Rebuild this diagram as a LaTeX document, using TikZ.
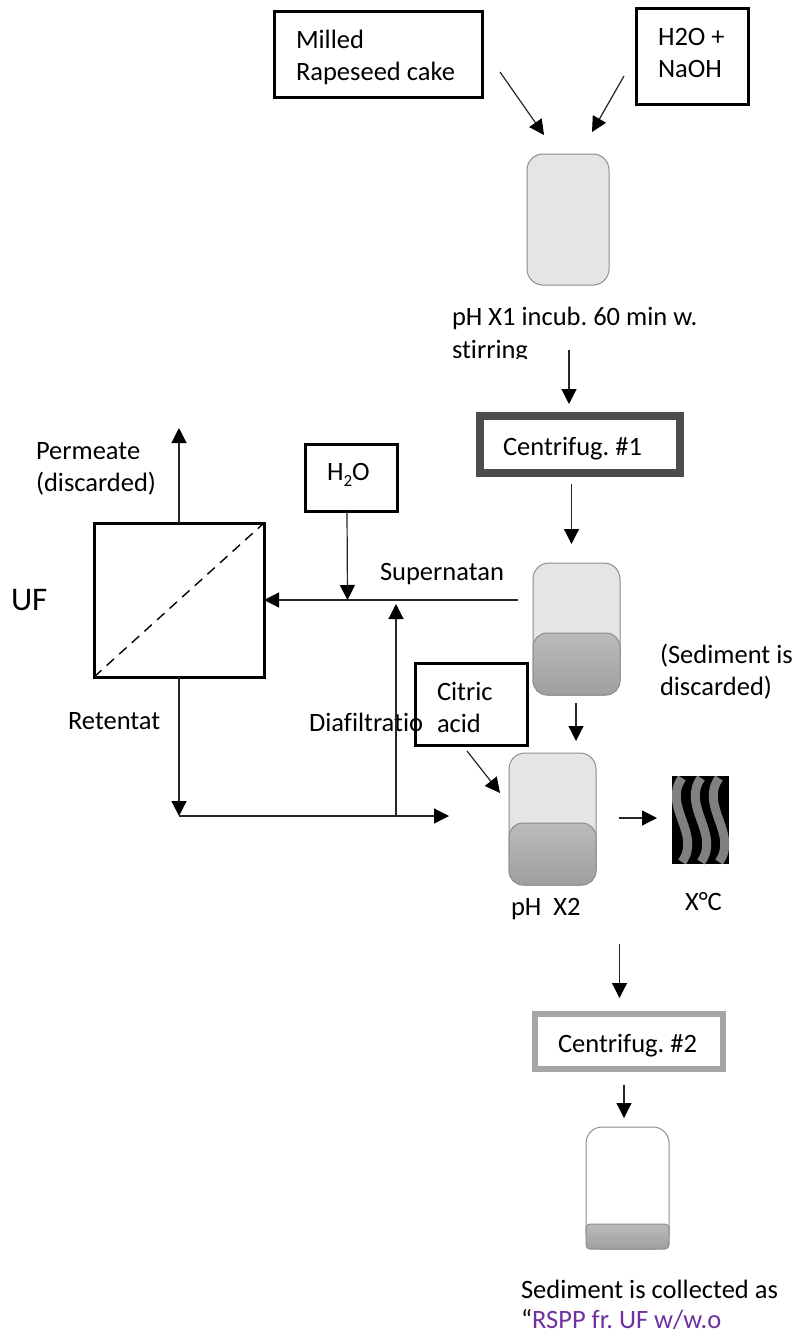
\documentclass[tikz,border=0pt]{standalone}
\usepackage{fontspec}
\setmainfont{Carlito}[Ligatures=NoCommon]
\usetikzlibrary{arrows.meta}
\definecolor{vesselline}{HTML}{8C8C8C}
\definecolor{sedtop}{HTML}{BBBBBB}
\definecolor{sedbot}{HTML}{9F9F9F}
\definecolor{rsppviolet}{HTML}{7030A0}
\tikzset{
  lbl/.style={anchor=base west,inner sep=0pt,outer sep=0pt,font=\fontsize{26.5}{30}\selectfont\frenchspacing,text=black},
  blackbox/.style={draw=black,line width=3pt,fill=white,inner sep=0pt,outer sep=0pt},
  vessel/.style={draw=vesselline,line width=1pt,rounded corners=16pt,inner sep=0pt,outer sep=0pt},
  sediment/.style={draw=vesselline,line width=1pt,rounded corners=14pt,inner sep=0pt,outer sep=0pt,top color=sedtop,bottom color=sedbot},
  flow/.style={draw=black!85,line width=1.2pt,-{Triangle[length=15pt,width=15pt,color=black]}},
  wave/.style={draw=black!50,line width=9pt}
}
\begin{document}
\begin{tikzpicture}[x=1pt,y=-1pt]
\useasboundingbox[fill=white] (0,0) rectangle (795,1333);

% input boxes
\node[blackbox,minimum width=208pt,minimum height=86pt] (milled) at (378,54) {};
\node[blackbox,minimum width=112pt,minimum height=96pt] (naoh) at (692,56) {};
\node[blackbox,minimum width=92pt,minimum height=67pt] (water) at (351,477.5) {};
\node[blackbox,minimum width=170pt,minimum height=154pt] (uf) at (179,600) {};
\draw[dash pattern=on 10pt off 7pt,line width=1.4pt] (uf.south west) -- (uf.north east);

% centrifuges
\node[draw=black!70,line width=8pt,fill=white,minimum width=200pt,minimum height=57pt,inner sep=0pt] (cfa) at (580,444.5) {};
\node[draw=black!35,line width=6pt,fill=white,minimum width=188pt,minimum height=55pt,inner sep=0pt] (cfb) at (629,1041.5) {};

% vessels
\node[vessel,fill=black!10,minimum width=82pt,minimum height=131pt] (va) at (568,219.5) {};
\node[vessel,fill=black!10,minimum width=87pt,minimum height=132pt] (vb) at (576.5,629) {};
\node[sediment,minimum width=87pt,minimum height=62pt] (sb) at (576.5,664) {};
\node[vessel,fill=black!10,minimum width=87pt,minimum height=132pt] (vc) at (552.5,819) {};
\node[sediment,minimum width=87pt,minimum height=62pt] (sc) at (552.5,854) {};
\node[vessel,fill=white,minimum width=83pt,minimum height=122pt] (vd) at (627.5,1188) {};
\node[sediment,rounded corners=4pt,minimum width=83pt,minimum height=25pt] (sd) at (627.5,1236.5) {};

% citric acid box under the diafiltration label
\node[blackbox,minimum width=112pt,minimum height=82pt] (citric) at (471,704) {};
\node[lbl] (diafil) at (309,731) {Diafiltratio};

% heating picture
\node[fill=black,minimum width=57pt,minimum height=88pt,inner sep=0pt,outer sep=0pt] (heat) at (700.5,820) {};
\begin{scope}
\clip (heat.south west) rectangle (heat.north east);
\draw[wave] (682,778) .. controls (662,806) and (702,834) .. (682,862);
\draw[wave] (701,778) .. controls (681,806) and (721,834) .. (701,862);
\draw[wave] (719,778) .. controls (699,806) and (739,834) .. (719,862);
\end{scope}

% free ends of the connectors
\coordinate (a1s) at (500,72);   \coordinate (a1e) at (544,135);
\coordinate (a2s) at (624,76);   \coordinate (a2e) at (592,132);
\coordinate (a3s) at (569,350);  \coordinate (a3e) at (569,404);
\coordinate (a4s) at (571.5,484);  \coordinate (a4e) at (571.5,544);
\coordinate (a5s) at (576,703);  \coordinate (a5e) at (576,741);
\coordinate (a6s) at (467,751);  \coordinate (a6e) at (500,793);
\coordinate (a7s) at (619,818);  \coordinate (a7e) at (657,818);
\coordinate (a8s) at (619.5,944);  \coordinate (a8e) at (619.5,998);
\coordinate (a9s) at (624,1085); \coordinate (a9e) at (624,1118);
\coordinate (sup) at (518,600);
\coordinate (wtop) at (347,511);
\coordinate (join) at (347.5,600);
\coordinate (corner) at (179,816);
\coordinate (tee) at (396,816);
\coordinate (bote) at (449,816);
\coordinate (diae) at (396,604);
\coordinate (perm) at (179,428);

% connectors
\draw[flow] (a1s) -- (a1e);
\draw[flow] (a2s) -- (a2e);
\draw[flow] (a3s) -- (a3e);
\draw[flow] (a4s) -- (a4e);
\draw[flow] (a5s) -- (a5e);
\draw[flow] (a6s) -- (a6e);
\draw[flow] (a7s) -- (a7e);
\draw[flow] (a8s) -- (a8e);
\draw[flow] (a9s) -- (a9e);
\draw[flow] (sup) -- (uf.east);
\draw[flow] (wtop) -- (join);
\draw[flow] (uf.north) -- (perm);
\draw[flow] (uf.south) -- (corner);
\draw[flow] (corner) -- (bote);
\draw[flow] (tee) -- (diae);

% labels
\node[lbl] (t1) at (296,48) {Milled};
\node[lbl] (t2) at (296,80) {Rapeseed cake};
\node[lbl] (t3) at (658,45) {H2O +};
\node[lbl] (t4) at (658,77) {NaOH};
\node[lbl] (t5) at (452,325) {pH X1 incub. 60 min w.};
\begin{scope}
\clip (440,335) rectangle (560,358.5);
\node[lbl] (t6) at (452,358) {stirring};
\end{scope}
\node[lbl] (t7) at (503,455) {Centrifug. \#1};
\node[lbl] (t8) at (36,459) {Permeate};
\node[lbl] (t9) at (36,491) {(discarded)};
\node[lbl] (t10) at (327,480) {H\raisebox{-6pt}{\fontsize{17}{19}\selectfont 2}O};
\node[lbl] (t11) at (380,580) {Supernatan};
\node[lbl,font=\fontsize{33}{38}\selectfont] (t12) at (11,610) {UF};
\node[lbl] (t13) at (68,729) {Retentat};
\node[lbl] (t14) at (437,700) {Citric};
\node[lbl] (t15) at (437,732) {acid};
\node[lbl] (t16) at (660,663) {(Sediment is};
\node[lbl] (t17) at (660,695) {discarded)};
\node[lbl] (t18) at (511,915) {pH\ \ X2};
\node[lbl] (t19) at (685,910) {X°C};
\node[lbl] (t20) at (558,1052) {Centrifug. \#2};
\node[lbl] (t21) at (521,1298) {Sediment is collected as};
\node[lbl] (t22) at (521,1328) {“\textcolor{rsppviolet}{RSPP fr. UF w/w.o}};
\end{tikzpicture}
\end{document}
